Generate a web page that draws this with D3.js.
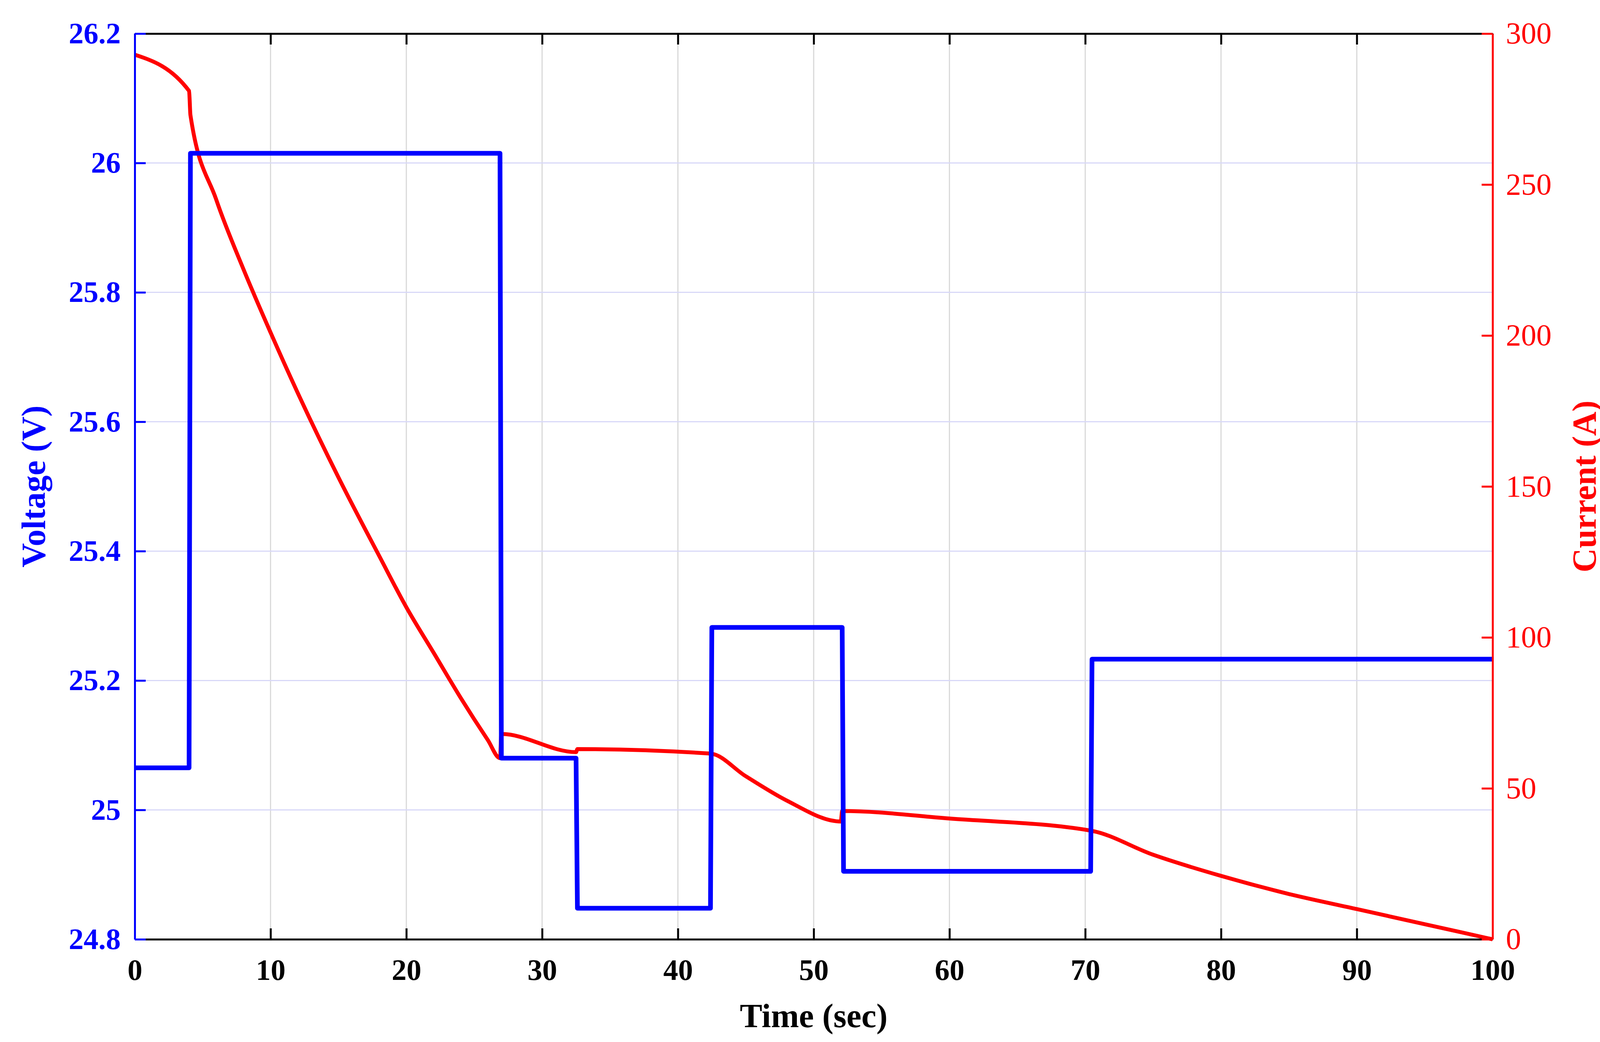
<!DOCTYPE html>
<html><head><meta charset="utf-8">
<script src="https://cdn.jsdelivr.net/npm/d3@7"></script>
<style>body{margin:0;background:#fff}</style></head>
<body><svg id="c" width="4144" height="2668"></svg>
<script>
const xTicks=[0,10,20,30,40,50,60,70,80,90,100];
const vTicks=[24.8,25,25.2,25.4,25.6,25.8,26,26.2];
const iTicks=[0,50,100,150,200,250,300];
const voltT=[0,4.0,4.1,26.9,27.0,32.5,32.6,42.4,42.5,52.1,52.2,70.4,70.5,100];
const voltV=[25.065,25.065,26.015,26.015,25.08,25.08,24.848,24.848,25.282,25.282,24.905,24.905,25.233,25.233];
const curT=[0,4.0,4.1,6,8,10,12,15,18,20,22,24,26,26.9,27.0,32.5,32.6,42.4,45,48,52.0,52.1,60,70.4,75,80,85,90,95,100];
const curV=[293,281,273,245,222,201,181,153,127,110,95,80,66,60,68,62,63,61.5,54,46,39,42.5,40,36,28,21,15,10,5,0];
const L=345,R=3821,T=86,B=2405;
const svg=d3.select('#c');
const x=d3.scaleLinear().domain([0,100]).range([L,R]);
const yv=d3.scaleLinear().domain([24.8,26.2]).range([B,T]);
const yi=d3.scaleLinear().domain([0,300]).range([B,T]);
const font='"Liberation Serif","DejaVu Serif",serif';
svg.append('g').selectAll('line').data(xTicks.slice(1,-1)).join('line')
 .attr('x1',d=>x(d)).attr('x2',d=>x(d)).attr('y1',T).attr('y2',B).attr('stroke','#d9d9d9').attr('stroke-width',3);
svg.append('g').selectAll('line').data(vTicks.slice(1,-1)).join('line')
 .attr('x1',L).attr('x2',R).attr('y1',d=>yv(d)).attr('y2',d=>yv(d)).attr('stroke','#d8d8f8').attr('stroke-width',3);
svg.append('path').datum(curT.map((t,i)=>[t,curV[i]])).attr('fill','none').attr('stroke','#ff0000').attr('stroke-width',10)
 .attr('stroke-linejoin','round').attr('d',d3.line().curve(d3.curveMonotoneX).x(d=>x(d[0])).y(d=>yi(d[1])));
svg.append('path').datum(voltT.map((t,i)=>[t,voltV[i]])).attr('fill','none').attr('stroke','#0000ff').attr('stroke-width',12)
 .attr('stroke-linejoin','round').attr('d',d3.line().x(d=>x(d[0])).y(d=>yv(d[1])));
function style(g,color,bold,size){
 g.select('.domain').attr('stroke',color).attr('stroke-width',5);
 g.selectAll('.tick line').attr('stroke',color).attr('stroke-width',5);
 g.selectAll('.tick text').attr('fill',color).attr('font-family',font).attr('font-size',size).attr('font-weight',bold?'bold':'normal');
}
const gx=svg.append('g').attr('transform',`translate(0,${B})`).call(d3.axisBottom(x).tickValues(xTicks).tickSize(-28).tickPadding(50).tickSizeOuter(0));
style(gx,'#000',true,76);
const gt=svg.append('g').attr('transform',`translate(0,${T})`).call(d3.axisTop(x).tickValues(xTicks).tickSize(-28).tickFormat('').tickSizeOuter(0));
style(gt,'#000',true,76);
const gl=svg.append('g').attr('transform',`translate(${L},0)`).call(d3.axisLeft(yv).tickValues(vTicks).tickSize(-28).tickPadding(36).tickFormat(d3.format('~g')).tickSizeOuter(0));
style(gl,'#0000ff',true,76);
const gr=svg.append('g').attr('transform',`translate(${R},0)`).call(d3.axisRight(yi).tickValues(iTicks).tickSize(-28).tickPadding(34).tickSizeOuter(0));
style(gr,'#ff0000',false,78);
svg.append('text').attr('x',(L+R)/2).attr('y',2630).attr('text-anchor','middle').attr('font-family',font).attr('font-weight','bold').attr('font-size',86).text('Time (sec)');
svg.append('text').attr('transform',`translate(115,${(T+B)/2}) rotate(-90)`).attr('text-anchor','middle').attr('font-family',font).attr('font-weight','bold').attr('font-size',86).attr('fill','#0000ff').text('Voltage (V)');
svg.append('text').attr('transform',`translate(4085,${(T+B)/2}) rotate(-90)`).attr('text-anchor','middle').attr('font-family',font).attr('font-weight','bold').attr('font-size',86).attr('fill','#ff0000').text('Current (A)');
</script></body></html>
